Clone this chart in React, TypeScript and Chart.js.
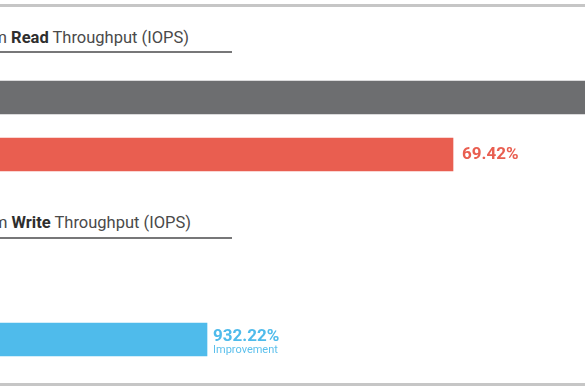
import React, { useEffect, useRef } from "react";
import { Chart, registerables } from "chart.js";

Chart.register(...registerables);

// ---- data (arbitrary IOPS units) ----
const axisMin = 60;
const axisMax = 645;

const readCategories = ["Baseline", "Optimized"];
const readValues = [869, 513];
const readColors = ["#6d6e70", "#e95e50"];
const readPercent = ["", "69.42%"];
const readNote = ["", ""];

const writeCategories = ["Baseline", "Optimized"];
const writeValues = [26, 267];
const writeColors = ["#6d6e70", "#4fbbeb"];
const writePercent = ["", "932.22%"];
const writeNote = ["", "Improvement"];

const readTitle = { pre: "Random ", bold: "Read", post: " Throughput (IOPS)" };
const writeTitle = { pre: "Random ", bold: "Write", post: " Throughput (IOPS)" };

type BarProps = {
  categories: string[];
  values: number[];
  colors: string[];
  percent: string[];
  note: string[];
  labelOffset: number;
  top: number;
};

function BarBlock({ categories, values, colors, percent, note, labelOffset, top }: BarProps) {
  const ref = useRef<HTMLCanvasElement | null>(null);
  useEffect(() => {
    if (!ref.current) return;
    const labelPlugin = {
      id: "endLabels",
      afterDatasetsDraw(chart: any) {
        const ctx = chart.ctx;
        const meta = chart.getDatasetMeta(0);
        ctx.save();
        meta.data.forEach((bar: any, i: number) => {
          if (!percent[i]) return;
          const x = bar.x + labelOffset;
          ctx.fillStyle = colors[i];
          ctx.textAlign = "left";
          ctx.textBaseline = "alphabetic";
          ctx.font = "bold 17px Roboto";
          if (note[i]) {
            ctx.fillText(percent[i], x, bar.y + 1);
            ctx.font = "11px Roboto";
            ctx.fillStyle = "#5cc0ec";
            ctx.fillText(note[i], x, bar.y + 13);
          } else {
            ctx.fillText(percent[i], x, bar.y + 4);
          }
        });
        ctx.restore();
      },
    };
    const chart = new Chart(ref.current, {
      type: "bar",
      data: {
        labels: categories,
        datasets: [
          {
            data: values,
            backgroundColor: colors,
            borderWidth: 0,
            barThickness: 33,
          },
        ],
      },
      options: {
        indexAxis: "y",
        responsive: false,
        maintainAspectRatio: false,
        animation: false,
        layout: { padding: 0 },
        events: [],
        scales: {
          x: { type: "linear", min: axisMin, max: axisMax, display: false },
          y: { type: "category", display: false, offset: true },
        },
        plugins: {
          legend: { display: false },
          tooltip: { enabled: false },
          title: { display: false },
        },
      },
      plugins: [labelPlugin],
    });
    return () => chart.destroy();
  }, []);
  return (
    <canvas
      ref={ref}
      width={585}
      height={114}
      style={{ position: "absolute", left: 0, top, width: 585, height: 114, display: "block" }}
    />
  );
}

function Title({ t, right, top }: { t: { pre: string; bold: string; post: string }; right: number; top: number }) {
  return (
    <div
      style={{
        position: "absolute",
        top,
        right,
        whiteSpace: "nowrap",
        fontFamily: "Roboto",
        fontSize: 16.5,
        lineHeight: "16px",
        color: "#4a4a4a",
      }}
    >
      {t.pre}
      <b style={{ color: "#2e2e2e", fontWeight: 700 }}>{t.bold}</b>
      {t.post}
    </div>
  );
}

export default function App() {
  return (
    <div
      style={{
        position: "absolute",
        left: 0,
        top: 0,
        width: 585,
        height: 390,
        overflow: "hidden",
        background: "#ffffff",
      }}
    >
      <div style={{ position: "absolute", left: 0, top: 4, width: 585, height: 3, background: "#c6c6c6" }} />
      <Title t={readTitle} right={585 - 189} top={29.5} />
      <div style={{ position: "absolute", left: 0, top: 51, width: 232, height: 2, background: "#777778" }} />
      <BarBlock
        categories={readCategories}
        values={readValues}
        colors={readColors}
        percent={readPercent}
        note={readNote}
        labelOffset={9}
        top={69}
      />
      <Title t={writeTitle} right={585 - 191} top={215} />
      <div style={{ position: "absolute", left: 0, top: 236.5, width: 232, height: 2, background: "#777778" }} />
      <BarBlock
        categories={writeCategories}
        values={writeValues}
        colors={writeColors}
        percent={writePercent}
        note={writeNote}
        labelOffset={6}
        top={254}
      />
      <div style={{ position: "absolute", left: 0, top: 383, width: 585, height: 3, background: "#c6c6c6" }} />
    </div>
  );
}
